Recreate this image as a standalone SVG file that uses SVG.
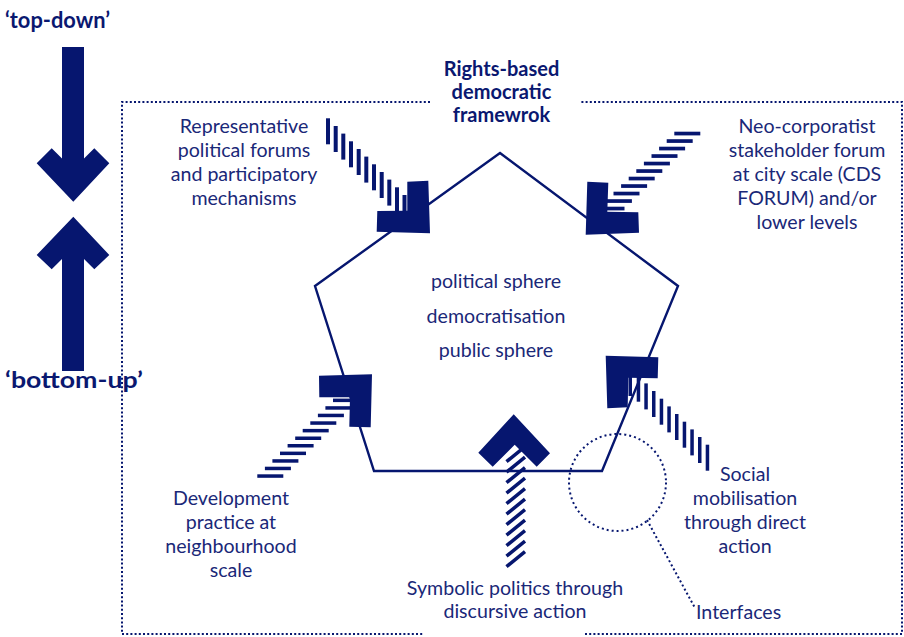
<svg xmlns="http://www.w3.org/2000/svg" width="904" height="637" viewBox="0 0 904 637">
<style>
.t{font-family:Lato,"Open Sans","Liberation Sans",sans-serif;font-size:19.6px;fill:#1a2878;text-anchor:middle}
.b{font-family:Lato,"Open Sans","Liberation Sans",sans-serif;font-weight:bold;fill:#0a1870}
.f{fill:#06166f}
.dot{fill:none;stroke:#06166f;stroke-width:2;stroke-dasharray:2 2.2}
.h{stroke:#06166f;stroke-width:3.5;fill:none}
</style>
<rect width="904" height="637" fill="#fff"/>
<g id="frame">
<path class="dot" d="M430 102H122V634H424M585 634H902V102H580"/>
</g>
<g id="top-down">
<text class="b" x="5" y="28" font-size="23" textLength="105" lengthAdjust="spacingAndGlyphs">‘top-down’</text>
<polygon class="f" points="62,47 84,47 84,158.6 94.3,148.3 109.3,163.3 73.3,201.7 36.7,163.3 51.7,148.3 62,158.6"/>
</g>
<g id="bottom-up">
<polygon class="f" points="62,371 84,371 84,259 94.3,269.3 109.3,255 73.3,216.7 36.7,255 51.7,269.3 62,259"/>
<text class="b" x="5" y="388" font-size="23" textLength="138" lengthAdjust="spacingAndGlyphs">‘bottom-up’</text>
</g>
<g id="title">
<text class="b" font-size="20" text-anchor="middle"><tspan x="501.5" y="76">Rights-based</tspan><tspan x="501.5" y="99">democratic</tspan><tspan x="501.5" y="122">framewrok</tspan></text>
</g>
<g id="sphere">
<polygon points="500,153 678,286 602,471 374,471 315,286" fill="none" stroke="#06166f" stroke-width="2.4" stroke-linejoin="miter"/>
<text class="t" x="496" y="288">political sphere</text>
<text class="t" x="496" y="323">democratisation</text>
<text class="t" x="496" y="357">public sphere</text>
</g>
<g id="representative">
<g class="f">
<rect x="326" y="118.3" width="4" height="26"/>
<rect x="333.7" y="126" width="4" height="26"/>
<rect x="341.3" y="133.6" width="4" height="26"/>
<rect x="349" y="141.3" width="4" height="26"/>
<rect x="356.7" y="149" width="4" height="26"/>
<rect x="364.3" y="156.6" width="4" height="26"/>
<rect x="372" y="164.3" width="4" height="26"/>
<rect x="379.7" y="172" width="4" height="26"/>
<rect x="387.3" y="179.6" width="4" height="26"/>
<rect x="395" y="187.3" width="4" height="26"/>
<rect x="402.5" y="195" width="4" height="20"/>
<polygon points="407.3,181.7 428.3,180.7 430,233.3 376.7,231.7 377.3,211 407.3,210.7"/>
</g>
<text class="t"><tspan x="244" y="133">Representative</tspan><tspan x="244" y="157">political forums</tspan><tspan x="244" y="181">and participatory</tspan><tspan x="244" y="205">mechanisms</tspan></text>
</g>
<g id="neo-corporatist">
<g class="f">
<rect x="674.3" y="131.7" width="26" height="3.7"/>
<rect x="666.7" y="139.2" width="26" height="3.7"/>
<rect x="659.1" y="146.7" width="26" height="3.7"/>
<rect x="651.5" y="154.2" width="26" height="3.7"/>
<rect x="643.9" y="161.7" width="26" height="3.7"/>
<rect x="636.3" y="169.2" width="26" height="3.7"/>
<rect x="628.7" y="176.7" width="26" height="3.7"/>
<rect x="621.1" y="184.2" width="26" height="3.7"/>
<rect x="613.5" y="191.7" width="26" height="3.7"/>
<rect x="605.9" y="199.2" width="26" height="3.7"/>
<rect x="600" y="206.7" width="24.5" height="3.7"/>
<polygon points="587.3,181.7 608.3,182.7 607.3,211.7 638.3,212.3 639,232.7 585.7,234.7"/>
</g>
<text class="t"><tspan x="807" y="133">Neo-corporatist</tspan><tspan x="807" y="157">stakeholder forum</tspan><tspan x="807" y="181">at city scale (CDS</tspan><tspan x="807" y="205">FORUM) and/or</tspan><tspan x="807" y="229">lower levels</tspan></text>
</g>
<g id="development">
<g class="f">
<rect x="257.3" y="474.3" width="26" height="3.5"/>
<rect x="264.9" y="466.7" width="26" height="3.5"/>
<rect x="272.4" y="459.2" width="26" height="3.5"/>
<rect x="280" y="451.6" width="26" height="3.5"/>
<rect x="287.6" y="444" width="26" height="3.5"/>
<rect x="295.2" y="436.5" width="26" height="3.5"/>
<rect x="302.7" y="428.9" width="26" height="3.5"/>
<rect x="310.3" y="421.3" width="26" height="3.5"/>
<rect x="317.9" y="413.7" width="26" height="3.5"/>
<rect x="325.4" y="406.2" width="26" height="3.5"/>
<rect x="333" y="398.6" width="17" height="3.5"/>
<polygon points="319,375.7 372,374.3 370.7,427.3 349.3,426.7 350,397.3 319.3,397.3"/>
</g>
<text class="t"><tspan x="231" y="505">Development</tspan><tspan x="231" y="529">practice at</tspan><tspan x="231" y="553">neighbourhood</tspan><tspan x="231" y="577">scale</tspan></text>
</g>
<g id="social">
<g class="f">
<rect x="705.7" y="444.7" width="3.5" height="26"/>
<rect x="698" y="437" width="3.5" height="26"/>
<rect x="690.3" y="429.4" width="3.5" height="26"/>
<rect x="682.7" y="421.7" width="3.5" height="26"/>
<rect x="675" y="414" width="3.5" height="26"/>
<rect x="667.3" y="406.4" width="3.5" height="26"/>
<rect x="659.7" y="398.7" width="3.5" height="26"/>
<rect x="652" y="391" width="3.5" height="26"/>
<rect x="644.3" y="383.4" width="3.5" height="26"/>
<rect x="636.7" y="375.7" width="3.5" height="26"/>
<rect x="628.5" y="370" width="3.5" height="26"/>
<polygon points="605.7,355.7 658.3,357.3 657.7,378.3 628.3,377.7 627.7,407.3 607.3,408.3"/>
</g>
<text class="t"><tspan x="745" y="481">Social</tspan><tspan x="745" y="505">mobilisation</tspan><tspan x="745" y="529">through direct</tspan><tspan x="745" y="553">action</tspan></text>
</g>
<g id="symbolic">
<g class="h">
<path d="M506.5 566.7L525 551.7M506.5 556.2L525 541.2M506.5 545.7L525 530.7M506.5 535.2L525 520.2M506.5 524.7L525 509.7M506.5 514.2L525 499.2M506.5 503.7L525 488.7M506.5 493.2L525 478.2M506.5 482.7L525 467.7M506.5 472.2L525 457.2M506.5 461.7L525 446.7"/>
</g>
<polygon class="f" points="513.7,414.3 550,453.3 536.7,466.7 514.7,444.7 492.7,466.7 478.3,452.7"/>
<text class="t"><tspan x="515" y="595">Symbolic politics through</tspan><tspan x="515" y="618">discursive action</tspan></text>
</g>
<g id="interfaces">
<circle class="dot" cx="617.5" cy="482.5" r="48.5" style="stroke-dasharray:2 3"/>
<text class="t" x="696" y="619" style="text-anchor:start">Interfaces</text>
</g>
<g id="connectors">
<path class="dot" d="M647 520L695 608" style="stroke-dasharray:2 2.6"/>
</g>
</svg>
